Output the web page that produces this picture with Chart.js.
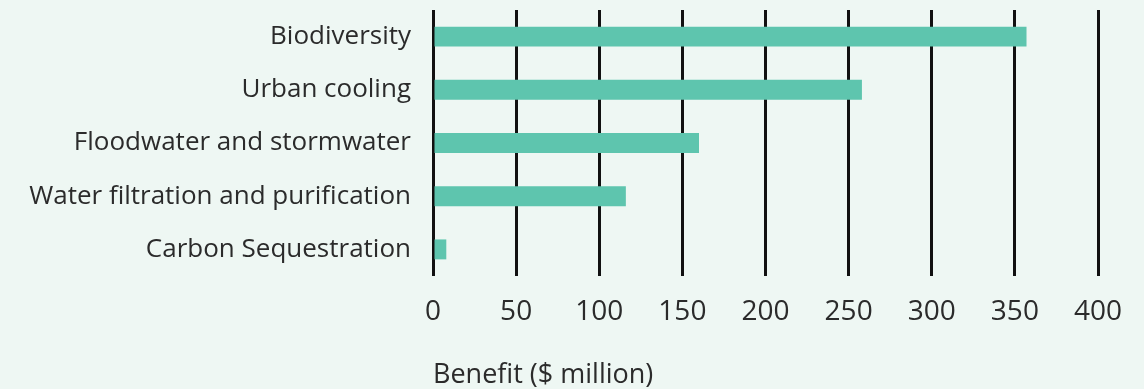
<!DOCTYPE html>
<html>
<head>
<meta charset="utf-8">
<script src="https://cdn.jsdelivr.net/npm/chart.js@4.4.1/dist/chart.umd.min.js"></script>
<style>
  html, body { margin: 0; padding: 0; background: #eef7f3; }
  #wrap { width: 1144px; height: 389px; }
</style>
</head>
<body>
<div id="wrap"><canvas id="chartBenefit"></canvas></div>
<script>
// Benefit per ecosystem service ($ million)
const services = [
    "Biodiversity",
    "Urban cooling",
    "Floodwater and stormwater",
    "Water filtration and purification",
    "Carbon Sequestration"
];
const benefits = [357, 258, 160, 116, 8];
const xTicks = [0, 50, 100, 150, 200, 250, 300, 350, 400];

const textColor = "#2b2b2b";
const fontFamily = "'Open Sans', sans-serif";

const ctx = document.getElementById("chartBenefit").getContext("2d");
new Chart(ctx, {
    type: "bar",
    data: {
        labels: services,
        datasets: [{
            label: "Benefit ($ million)",
            data: benefits,
            backgroundColor: "#5ec5ae",
            borderWidth: 0,
            barPercentage: 0.75,
            categoryPercentage: 0.5
        }]
    },
    options: {
        indexAxis: "y",
        responsive: true,
        maintainAspectRatio: false,
        animation: false,
        layout: { padding: { top: 10, right: 46, left: 0, bottom: 0 } },
        plugins: { legend: { display: false }, tooltip: { enabled: false } },
        scales: {
            x: {
                min: 0,
                max: 400,
                afterBuildTicks: (scale) => { scale.ticks = xTicks.map(v => ({ value: v })); },
                afterFit: (scale) => { scale.height = 113; },
                grid: { color: "#111111", lineWidth: 3, drawTicks: false },
                border: { display: false },
                ticks: {
                    color: textColor,
                    padding: 19,
                    maxRotation: 0,
                    font: { family: fontFamily, size: 28 }
                },
                title: {
                    display: true,
                    text: "Benefit ($ million)",
                    align: "start",
                    color: textColor,
                    padding: { top: 0, bottom: -3 },
                    font: { family: fontFamily, size: 27 }
                }
            },
            y: {
                // keep the category axis from reserving room above the first bar
                afterFit: (scale) => {
                    scale.width = 433;
                    scale.paddingTop = 0;
                    scale.paddingBottom = 0;
                },
                grid: { display: false, drawTicks: false },
                border: { display: false },
                ticks: {
                    color: textColor,
                    padding: 22,
                    font: { family: fontFamily, size: 26 }
                }
            }
        }
    }
});
</script>
</body>
</html>
